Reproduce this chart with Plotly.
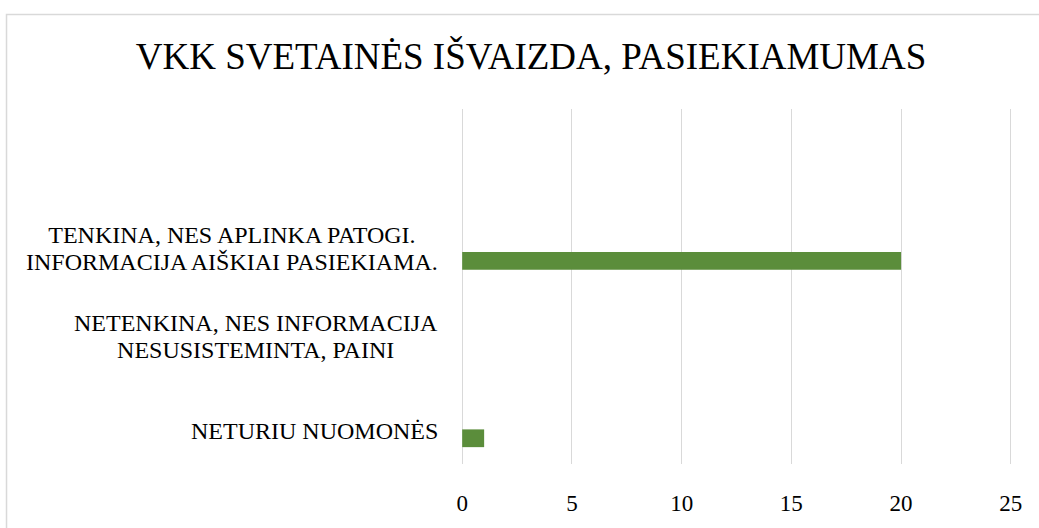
import plotly.graph_objects as go

# Chart content
title_text = "VKK SVETAINĖS IŠVAIZDA, PASIEKIAMUMAS"
categories = [
    ["NETURIU NUOMONĖS"],
    ["NETENKINA, NES INFORMACIJA", "NESUSISTEMINTA, PAINI"],
    ["TENKINA, NES APLINKA PATOGI.", "INFORMACIJA AIŠKIAI PASIEKIAMA."],
    [""],
]
values = [1, 0, 20, None]
x_ticks = [0, 5, 10, 15, 20, 25]

FONT = "Liberation Serif, Times New Roman, serif"
BAR_COLOR = "#5b8d3b"
GRID_COLOR = "#d9d9d9"
LABEL_SIZE = 24

positions = list(range(len(categories)))

fig = go.Figure(
    go.Bar(
        x=values,
        y=positions,
        orientation="h",
        offset=-0.31,
        width=0.2,
        marker=dict(color=BAR_COLOR, line=dict(width=0)),
        hoverinfo="x",
    )
)

# Category labels: right-aligned blocks, lines centred
annotations = []
for pos, lines in zip(positions, categories):
    if not any(lines):
        continue
    text = "<br>".join(
        f"<span style='font-size:{LABEL_SIZE}px'>{line}</span>" for line in lines
    )
    annotations.append(
        dict(
            text=text,
            x=0,
            xref="paper",
            xanchor="right",
            xshift=-20,
            y=pos,
            yref="y",
            yanchor="middle",
            yshift=-11 if len(lines) == 1 else -6,
            align="center",
            showarrow=False,
            font=dict(family=FONT, size=20.5, color="#000000"),
        )
    )

# x range padded a touch so the gridlines at 0 and 25 stay visible
x_range = [-0.1, 25.1]
px_per_unit = 549 / 25
left = 462 + x_range[0] * px_per_unit
right = 1039 - (462 + x_range[1] * px_per_unit)
plot_w = 1039 - left - right

fig.update_layout(
    width=1039,
    height=528,
    margin=dict(l=left, r=right, t=109, b=53),
    paper_bgcolor="white",
    plot_bgcolor="white",
    showlegend=False,
    font=dict(family=FONT, color="#000000"),
    title=dict(
        text=title_text,
        font=dict(family=FONT, size=37, color="#000000"),
        x=531 / 1039,
        xref="container",
        xanchor="center",
        y=1 - 56 / 528,
        yref="container",
        yanchor="middle",
    ),
    xaxis=dict(
        range=x_range,
        tickvals=x_ticks,
        showgrid=True,
        gridcolor=GRID_COLOR,
        gridwidth=1,
        zeroline=False,
        showline=False,
        ticks="outside",
        ticklen=18,
        tickcolor="rgba(0,0,0,0)",
        tickfont=dict(family=FONT, size=23, color="#000000"),
        fixedrange=True,
    ),
    yaxis=dict(
        range=[-0.5, len(categories) - 0.5],
        showgrid=False,
        zeroline=False,
        showline=False,
        showticklabels=False,
        fixedrange=True,
    ),
    annotations=annotations,
    shapes=[
        dict(
            type="rect",
            xref="paper",
            yref="paper",
            x0=(6 - left) / plot_w,
            x1=1.3,
            y0=-0.4,
            y1=(475 - 11.5) / 366,
            line=dict(color=GRID_COLOR, width=1.5),
            fillcolor="rgba(0,0,0,0)",
            layer="below",
        )
    ],
)

fig.write_html("out.html")
